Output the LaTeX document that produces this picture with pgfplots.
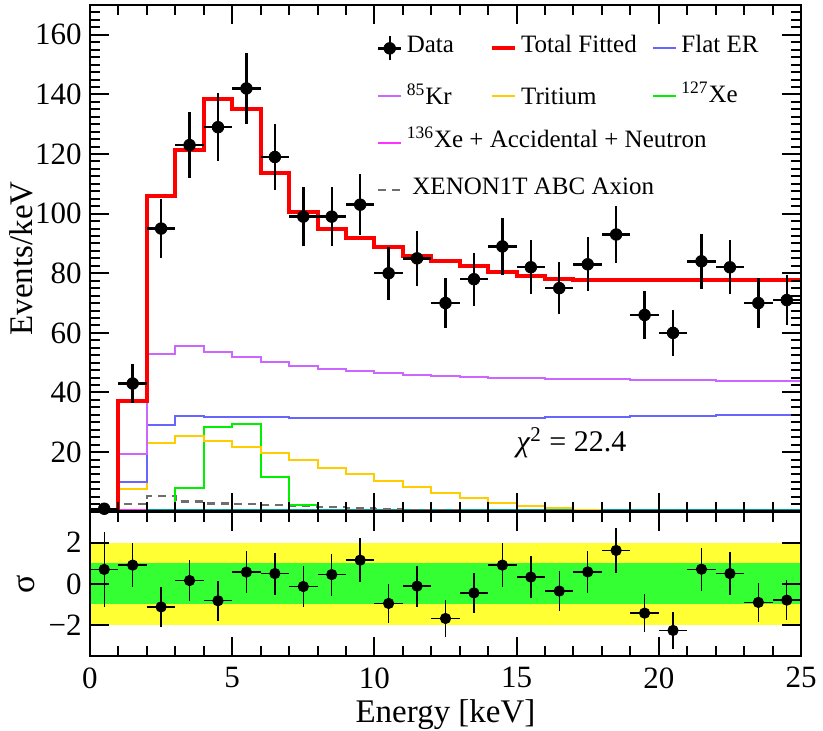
\documentclass[border=0pt]{standalone}
\usepackage{pgfplots}
\usepackage{pgfplotstable}
\pgfplotsset{compat=1.18}
\usepackage{fontspec}
\setmainfont{Liberation Serif}
\definecolor{cred}{RGB}{255,0,0}
\definecolor{ckr}{RGB}{204,102,255}
\definecolor{cflat}{RGB}{102,102,255}
\definecolor{ctri}{RGB}{255,204,0}
\definecolor{cxe}{RGB}{0,240,0}
\definecolor{cxes}{RGB}{255,51,255}
\definecolor{caxion}{RGB}{110,110,110}
\definecolor{cteal}{RGB}{0,153,153}
\definecolor{bandone}{RGB}{51,255,51}
\definecolor{bandtwo}{RGB}{255,255,51}

\pgfplotstableread{
x y ex ey
0.5 1 0.5 1.00
1.5 43 0.5 6.56
2.5 95 0.5 9.75
3.5 123 0.5 11.09
4.5 129 0.5 11.36
5.5 142 0.5 11.92
6.5 119 0.5 10.91
7.5 99 0.5 9.95
8.5 99 0.5 9.95
9.5 103 0.5 10.15
10.5 80 0.5 8.94
11.5 85 0.5 9.22
12.5 70 0.5 8.37
13.5 78 0.5 8.83
14.5 89 0.5 9.43
15.5 82 0.5 9.06
16.5 75 0.5 8.66
17.5 83 0.5 9.11
18.5 93 0.5 9.64
19.5 66 0.5 8.12
20.5 60 0.5 7.75
21.5 84 0.5 9.17
22.5 82 0.5 9.06
23.5 70 0.5 8.37
24.5 71 0.5 8.43
}\datatab

\pgfplotstableread{
x y ex ey
0.5 0.70 0.5 1.80
1.5 0.91 0.5 1.08
2.5 -1.12 0.5 0.95
3.5 0.16 0.5 1.01
4.5 -0.82 0.5 0.97
5.5 0.57 0.5 1.03
6.5 0.50 0.5 1.02
7.5 -0.13 0.5 0.99
8.5 0.45 0.5 1.02
9.5 1.15 0.5 1.05
10.5 -0.95 0.5 0.95
11.5 -0.11 0.5 0.99
12.5 -1.68 0.5 0.91
13.5 -0.44 0.5 0.98
14.5 0.91 0.5 1.06
15.5 0.33 0.5 1.02
16.5 -0.35 0.5 0.98
17.5 0.58 0.5 1.03
18.5 1.62 0.5 1.09
19.5 -1.42 0.5 0.92
20.5 -2.26 0.5 0.88
21.5 0.71 0.5 1.04
22.5 0.50 0.5 1.03
23.5 -0.90 0.5 0.95
24.5 -0.79 0.5 0.96
}\restab

\newcommand{\legA}[2][2.2pt]{\makebox[43.65pt][l]{\hspace{#1}#2}}
\newcommand{\legB}[1]{\makebox[67.65pt][l]{\hspace{2.2pt}#1}}
\newcommand{\legC}[1]{\hspace{2.2pt}#1}

\pgfplotsset{
  legline/.style={legend image code/.code={\draw[##1] (0pt,0pt)--(11.5pt,0pt);}},
  datalegend/.style={legend image code/.code={%
    \draw[black,line width=1.2pt] (0pt,0pt)--(11.5pt,0pt) (5.75pt,-6pt)--(5.75pt,6pt);
    \fill[black] (5.75pt,0pt) circle (2.9pt);}},
  rootaxis/.style={
    scale only axis, width=355.5pt,
    xmin=0, xmax=25,
    axis line style={line width=1.2pt},
    every tick/.style={black, line width=1pt},
    major tick length=9.5pt, minor tick length=5pt,
    tick label style={font=\fontsize{15.5pt}{18pt}\selectfont},
    /pgf/number format/assume math mode=true,
    yticklabel style={inner sep=0pt, xshift=-4pt},
    xticklabel style={inner sep=0pt, yshift=-5.5pt},
    xtick={0,5,...,25}, minor xtick={0,1,...,25},
  },
}

\begin{document}
\begin{tikzpicture}
\useasboundingbox (-45pt,-109.65pt) rectangle (366.5pt,255.85pt);

\begin{axis}[rootaxis,
  at={(0,0)}, anchor=south west, height=253.35pt,
  ymin=0, ymax=170,
  xticklabels={},
  ytick={20,40,...,160}, minor ytick={0,2.5,...,170},
  axis on top,
  ylabel={Events/keV},
  ylabel style={font=\fontsize{16.5pt}{20pt}\selectfont, at={(axis description cs:-0.097,0.5)}, anchor=center},
  legend columns=3,
  legend cell align=left,
  legend style={draw=none, fill=none, at={(axis description cs:0.4037,0.9611)}, anchor=north west,
    inner sep=0pt, outer sep=0pt, column sep=0pt, row sep=0pt,
    font=\fontsize{12.5pt}{15pt}\selectfont,
    nodes={inner sep=0pt, outer sep=0pt, text height=14pt, text depth=9.65pt}},
]
\addlegendimage{datalegend}
\addlegendentry{\legA{Data}}
\addlegendimage{legline, cred, line width=2pt}
\addlegendentry{\legB{Total Fitted}}
\addlegendimage{legline, cflat, line width=1pt}
\addlegendentry{\legC{Flat ER}}
\addlegendimage{legline, ckr, line width=1pt}
\addlegendentry{\legA{\raisebox{-2pt}{\textsuperscript{85}Kr}}}
\addlegendimage{legline, ctri, line width=1pt}
\addlegendentry{\legB{\raisebox{-2pt}{Tritium}}}
\addlegendimage{legline, cxe, line width=1pt}
\addlegendentry{\legC{\raisebox{-1pt}{\textsuperscript{127}Xe}}}
\addlegendimage{legline, cxes, line width=0.6pt}
\addlegendentry{\legA{\textsuperscript{136}Xe + Accidental + Neutron}}
\addlegendimage{empty legend}
\addlegendentry{}
\addlegendimage{empty legend}
\addlegendentry{}
\addlegendimage{legline, caxion, line width=1.2pt, dash pattern=on 4pt off 3pt}
\addlegendentry{\legA[5pt]{XENON1T ABC Axion}}

% teal (small component)
\addplot[const plot, draw=cteal, line width=1pt, forget plot] coordinates {
(2,0.7) (25,0.7)};
% 136Xe + Accidental + Neutron
\addplot[const plot, draw=cxes, line width=0.6pt, forget plot] coordinates {
(0,0) (1,0.6) (2,0.4) (25,0.4)};
% Axion
\addplot[const plot, draw=caxion, line width=1.2pt, dash pattern=on 4pt off 3pt, forget plot] coordinates {
(0,0) (1,2.6) (2,5.3) (3,3.4) (4,2.8) (5,2.6) (6,2.3) (7,1.9) (8,1.5) (9,1.1) (10,0.8) (11,0.6) (12,0.4) (13,0.3) (25,0.3)};
% 127Xe
\addplot[const plot, draw=cxe, line width=1pt, forget plot] coordinates {
(2,0) (3,8.1) (4,28.3) (5,29.5) (6,11.8) (7,2.3) (8,0)};
% Tritium
\addplot[const plot, draw=ctri, line width=1pt, forget plot] coordinates {
(0,0) (1,7.5) (2,23.2) (3,25.3) (4,23.6) (5,21.7) (6,19.7) (7,17.2) (8,14.8) (9,12.6) (10,10.4) (11,8.2) (12,6.4) (13,4.6) (14,3.0) (15,2.0) (16,1.3) (17,0.7) (18,0.4) (19,0.2) (25,0.2)};
% Flat ER
\addplot[const plot, draw=cflat, line width=1pt, forget plot] coordinates {
(0,0) (1,9.9) (2,29.0) (3,32.0) (4,31.9) (5,31.8) (6,31.7) (7,31.6) (8,31.5) (9,31.5) (10,31.4) (11,31.4) (12,31.3) (13,31.4) (14,31.5) (15,31.6) (16,31.7) (17,31.8) (18,31.9) (19,32.0) (20,32.1) (21,32.2) (22,32.3) (23,32.4) (24,32.5) (25,32.5)};
% 85Kr
\addplot[const plot, draw=ckr, line width=1pt, forget plot] coordinates {
(0,0) (1,19.3) (2,52.8) (3,55.5) (4,53.7) (5,51.9) (6,50.3) (7,48.8) (8,47.9) (9,47.1) (10,46.5) (11,45.9) (12,45.6) (13,45.3) (14,45.0) (15,44.8) (16,44.6) (17,44.5) (18,44.4) (19,44.3) (20,44.2) (21,44.1) (22,44.0) (23,44.0) (24,43.9) (25,43.9)};
% Total fitted
\addplot[const plot, draw=cred, line width=2pt, forget plot] coordinates {
(0,0.4) (1,37.0) (2,105.9) (3,121.2) (4,138.5) (5,135.2) (6,113.7) (7,100.5) (8,94.8) (9,91.7) (10,88.7) (11,85.9) (12,84.0) (13,82.3) (14,80.5) (15,79.1) (16,78.2) (17,77.7) (25,77.7)};
% Data
\addplot[black, only marks, mark=*, mark size=2.9pt, forget plot,
  error bars/.cd, x dir=both, x explicit, y dir=both, y explicit,
  error mark=none, error bar style={line width=1.2pt, black}]
  table[x=x, y=y, x error=ex, y error=ey] {\datatab};

\node[font=\fontsize{15pt}{18pt}\selectfont, anchor=center] at (axis cs:16.93,23.1) {\textit{χ}\textsuperscript{2} = 22.4};
\end{axis}

\begin{axis}[rootaxis,
  at={(0,0)}, anchor=north west, height=72.15pt,
  ymin=-3.5, ymax=3.5,
  ytick={-2,0,2}, yticklabels={−2,0,2},
  axis on top,
  xlabel={Energy [keV]},
  xlabel style={font=\fontsize{16.5pt}{20pt}\selectfont, at={(axis description cs:0.5,0)}, anchor=base, yshift=-33pt},
  ylabel={σ},
  ylabel style={font=\fontsize{17pt}{20pt}\selectfont, at={(axis description cs:-0.09,0.5)}, anchor=center},
]
\addplot[fill=bandtwo, draw=none] coordinates {(0,-2) (25,-2) (25,2) (0,2)} -- cycle;
\addplot[fill=bandone, draw=none] coordinates {(0,-1) (25,-1) (25,1) (0,1)} -- cycle;
\addplot[black, only marks, mark=*, mark size=2.6pt,
  error bars/.cd, x dir=both, x explicit, y dir=both, y explicit,
  error mark=none, error bar style={line width=0.7pt, black}]
  table[x=x, y=y, x error=ex, y error=ey] {\restab};
\end{axis}
\end{tikzpicture}
\end{document}
